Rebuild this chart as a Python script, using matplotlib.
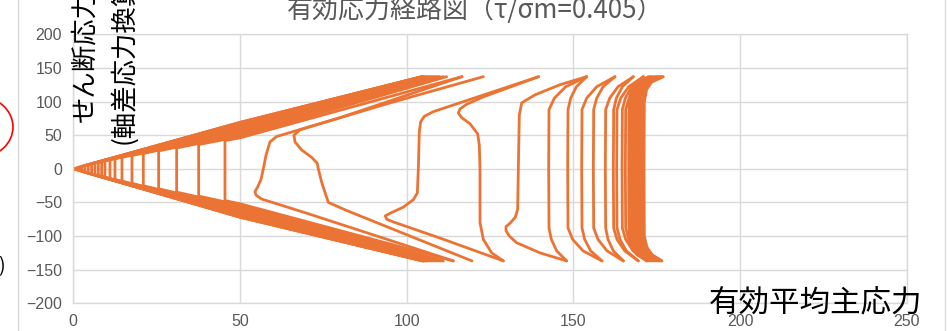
import matplotlib.pyplot as plt
from matplotlib.patches import Ellipse
from matplotlib.lines import Line2D

plt.rcParams['font.family'] = ['Noto Sans CJK JP', 'DejaVu Sans']

PATH_COLOR = '#EB7434'
GRID_COLOR = '#d9d9d9'

# early cycles at high p' : nearly vertical "(" strokes
CLUSTER_Q = [137, 129, 118, 100, 0, -100, -117, -128, -137]
cluster_p = [
    [177.0, 173.5, 172.0, 171.3, 171.2, 171.3, 172.1, 173.7, 176.6],
    [176.8, 173.2, 171.7, 171.0, 170.9, 171.0, 171.8, 173.4, 176.4],
    [176.5, 172.9, 171.4, 170.7, 170.6, 170.7, 171.5, 173.1, 176.1],
    [176.2, 172.6, 171.1, 170.4, 170.3, 170.4, 171.2, 172.8, 175.8],
    [175.9, 172.3, 170.8, 170.1, 170.0, 170.1, 170.9, 172.5, 175.5],
    [175.6, 172.0, 170.5, 169.8, 169.7, 169.8, 170.6, 172.2, 175.2],
    [175.3, 171.7, 170.2, 169.5, 169.4, 169.5, 170.3, 171.9, 174.8],
    [175.0, 171.3, 169.8, 169.1, 169.0, 169.1, 169.9, 171.5, 174.4],
    [174.6, 170.9, 169.4, 168.7, 168.6, 168.7, 169.5, 171.1, 174.0],
    [174.2, 170.5, 169.0, 168.3, 168.2, 168.3, 169.1, 170.7, 173.6],
    [173.7, 170.0, 168.5, 167.8, 167.7, 167.8, 168.6, 170.2, 173.2],
    [173.2, 169.5, 168.0, 167.3, 167.2, 167.3, 168.1, 169.7, 172.7],
    [172.6, 168.9, 167.4, 166.7, 166.6, 166.7, 167.5, 169.1, 172.2],
]

# cycles where p' starts to drop faster
TRANSITION_Q = [137, 122, 105, 88, 0, -88, -105, -122, -137]
transition_p = [
    [173.0, 168.9, 166.7, 165.7, 165.6, 165.7, 166.6, 168.5, 172.0],
    [171.0, 167.5, 165.6, 164.7, 164.6, 164.7, 165.7, 167.9, 172.0],
    [171.0, 166.6, 164.2, 163.1, 163.0, 163.1, 164.0, 165.9, 169.5],
    [168.0, 164.7, 162.9, 162.1, 162.0, 162.1, 163.1, 165.4, 169.5],
    [168.0, 163.4, 160.9, 159.7, 159.6, 159.7, 160.4, 162.0, 165.0],
    [162.5, 158.9, 157.0, 156.1, 156.0, 156.1, 157.4, 160.1, 165.0],
    [162.5, 157.0, 154.0, 152.6, 152.5, 152.6, 153.4, 155.2, 158.6],
    [154.0, 150.9, 149.2, 148.4, 148.3, 148.4, 149.8, 152.9, 158.6],
    [154.0, 147.7, 144.3, 142.7, 142.6, 142.7, 143.4, 145.0, 148.0],
]

# strokes with phase-transformation hooks
hook_p = [
    [154.0, 146.0, 138.5, 134.5, 133.8, 133.5, 133.3, 132.6, 131.0, 129.8, 129.8,
     130.8, 133.0, 140.0, 148.0],
    [139.6, 123.0, 118.0, 116.0, 115.5, 116.5, 119.0, 121.3, 121.8, 122.0, 122.0,
     123.0, 125.5, 129.0],
    [139.6, 108.0, 105.3, 104.2, 103.8, 103.5, 103.2, 102.0, 99.0, 95.5, 93.6, 94.0,
     96.0, 110.0, 129.0],
    [123.0, 95.0, 72.0, 68.0, 66.2, 66.5, 68.5, 71.5, 73.2, 73.5, 74.5, 76.5, 82.0,
     100.0, 119.6],
    [116.6, 80.0, 61.0, 59.0, 57.8, 57.0, 56.3, 55.3, 54.5, 54.8, 56.5, 70.0, 114.0],
]
hook_q = [
    [137, 125, 110, 98, 80, 0, -60, -72, -81, -86, -92, -100, -110, -125, -137],
    [137, 107, 96, 89, 83, 76, 67, 52, 35, 0, -80, -105, -125, -137],
    [137, 85, 78, 70, 55, 0, -36, -46, -57, -65, -70, -75, -79, -103, -137],
    [137, 98, 64, 58, 50, 40, 28, 17, 8, 0, -20, -50, -62, -98, -137],
    [137, 76, 48, 40, 20, 0, -16, -27, -34, -39, -45, -66, -137],
]

# liquefied stage: strokes along both failure lines, crossing near the origin
low_cross = [45.5, 37.6, 31.0, 25.6, 21.0, 17.6, 14.6, 12.5, 11.0, 9.5,
             8.5, 7.5, 6.5, 5.5, 4.5, 3.5, 2.5, 1.5, 0.5]
low_top_tip = [116.6, 112.0, 111.0, 110.0, 109.5, 109.0, 108.5, 108.0, 107.5, 107.0,
               106.5, 106.0, 105.5, 105.2, 105.0, 104.8, 104.6, 104.6, 104.6]
low_bot_tip = [114.0, 111.0, 110.5, 110.0, 109.5, 109.0, 108.5, 108.0, 107.5, 107.0,
               106.5, 106.0, 106.0, 105.6, 105.3, 105.0, 105.0, 104.8, 104.8]
low_upper50 = [46, 48, 50, 52, 54, 56, 58, 60, 61, 62, 63, 64, 65, 66, 67, 68, 68, 69, 69]
low_lower50 = [-52, -54, -56, -58, -60, -62, -63, -64, -65, -66, -67, -68, -69, -70,
               -70, -71, -71, -72, -72]
low_upper_meet = [41.9, 36.1, 31.0, 26.6, 22.7, 19.7, 16.9, 15.0, 13.4, 11.8,
                  10.7, 9.6, 8.5, 7.3, 6.0, 4.8, 3.4, 2.1, 0.7]
low_lower_meet = [-47.3, -40.6, -34.7, -29.7, -25.2, -21.8, -18.4, -16.0, -14.3, -12.5,
                  -11.4, -10.2, -9.0, -7.7, -6.3, -5.0, -3.6, -2.2, -0.7]
origin_p = [0.0, 2.5]
origin_q = [0.0, 0.0]

x_ticks = [0, 50, 100, 150, 200, 250]
y_ticks = [-200, -150, -100, -50, 0, 50, 100, 150, 200]

W, H = 947, 331
fig = plt.figure(figsize=(W / 100, H / 100), dpi=100)
ax = fig.add_axes([73.3 / W, 27.7 / H, 833.4 / W, 269 / H])

line_kw = dict(color=PATH_COLOR, lw=2.0, solid_joinstyle='round', solid_capstyle='round')

for p in cluster_p:
    ax.plot(p, CLUSTER_Q, **line_kw)
for p in transition_p:
    ax.plot(p, TRANSITION_Q, **line_kw)
for p, q in zip(hook_p, hook_q):
    ax.plot(p, q, **line_kw)
for i in range(len(low_cross)):
    p = [low_top_tip[i], 50, low_cross[i], low_cross[i], 50, low_bot_tip[i]]
    q = [137, low_upper50[i], low_upper_meet[i], low_lower_meet[i], low_lower50[i], -137]
    ax.plot(p, q, **line_kw)
ax.plot(origin_p, origin_q, **line_kw)

ax.set_xlim(0, 250)
ax.set_ylim(-200, 200)
ax.set_xticks(x_ticks)
ax.set_yticks(y_ticks)
ax.grid(True, color=GRID_COLOR, lw=1.0)
ax.set_axisbelow(True)
for s in ax.spines.values():
    s.set_color(GRID_COLOR)
    s.set_linewidth(1.0)
ax.tick_params(length=0, labelsize=11.5, colors='#595959', pad=8)
for lab in ax.get_xticklabels() + ax.get_yticklabels():
    lab.set_fontfamily('Liberation Sans')

# title (runs off the top edge)
fig.text(475 / W, 1 - 18 / H, '有効応力経路図（τ/σm=0.405）', ha='center', va='baseline',
         fontsize=18.7, color='#595959')

# axis titles
fig.text(84.5 / W, 1 - 56 / H, 'せん断応力', rotation=90, ha='center', va='center',
         fontsize=19, color='black')
fig.text(123 / W, 1 - 56 / H, '(軸差応力換算)', rotation=90, ha='center', va='center',
         fontsize=19, color='black')
fig.text(816 / W, 1 - 304 / H, '有効平均主応力', ha='center', va='center',
         fontsize=22, color='black')

# chart area borders
for xb in (17.5, 945):
    fig.add_artist(Line2D([xb / W, xb / W], [0, 1], transform=fig.transFigure,
                          color=GRID_COLOR, lw=1.0))

# red marker ellipse and stray bracket at the left edge
fig.add_artist(Ellipse((-20 / W, 1 - 127 / H), 66 / W, 60 / H, transform=fig.transFigure,
                       fill=False, edgecolor='red', lw=1.2))
fig.text(-2 / W, 1 - 267 / H, ')', ha='left', va='center', fontsize=14, color='black')

fig.savefig('out.png', dpi=100)
